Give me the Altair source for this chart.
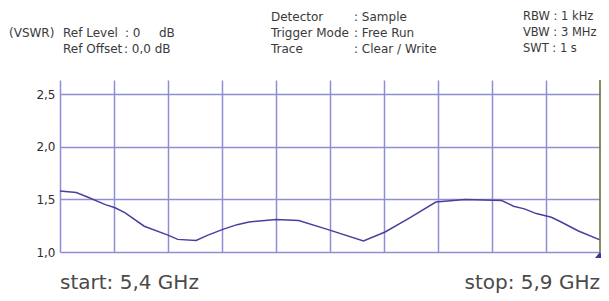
import altair as alt
import pandas as pd

# ---- data ----
freq_ghz = [5.400, 5.415, 5.426, 5.442, 5.451, 5.460, 5.478, 5.500, 5.509, 5.526,
            5.537, 5.552, 5.564, 5.575, 5.600, 5.621, 5.649, 5.681, 5.701, 5.723,
            5.748, 5.775, 5.809, 5.820, 5.830, 5.841, 5.855, 5.864, 5.880, 5.900]
vswr = [1.58, 1.565, 1.52, 1.45, 1.42, 1.375, 1.245, 1.16, 1.12, 1.11,
        1.16, 1.22, 1.26, 1.285, 1.31, 1.30, 1.21, 1.105, 1.19, 1.32,
        1.475, 1.50, 1.49, 1.435, 1.41, 1.365, 1.33, 1.285, 1.20, 1.115]

x_grid = [5.40, 5.45, 5.50, 5.55, 5.60, 5.65, 5.70, 5.75, 5.80, 5.85]
y_ticks = [1.0, 1.5, 2.0, 2.5]
x_start, x_stop = 5.4, 5.9
y_min, y_max = 1.0, 2.635

header_left = ["(VSWR)"]
ref_labels = ["Ref Level", "Ref Offset"]
ref_values = [": 0", ": 0,0 dB"]
det_labels = ["Detector", "Trigger Mode", "Trace"]
det_values = [": Sample", ": Free Run", ": Clear / Write"]
bw_labels = ["RBW : 1 kHz", "VBW : 3 MHz", "SWT : 1 s"]
start_label = "start: 5,4 GHz"
stop_label = "stop: 5,9 GHz"

df = pd.DataFrame({"f": freq_ghz, "v": vswr})

GRID = "#8e8ed4"
TXT = "#3a3a3a"
FONT = "DejaVu Sans"
W, H = 540, 172

xs = alt.Scale(domain=[x_start, x_stop], nice=False, zero=False)
ys = alt.Scale(domain=[y_min, y_max], nice=False, zero=False)

base = alt.Chart(df)

trace = base.mark_line(color="#4b3f9e", strokeWidth=1.5, interpolate="linear").encode(
    x=alt.X("f:Q", scale=xs,
            axis=alt.Axis(values=x_grid, grid=True, gridColor=GRID, gridWidth=1.5,
                          gridOpacity=1, labels=False, ticks=False, domain=False, title=None)),
    y=alt.Y("v:Q", scale=ys,
            axis=alt.Axis(values=y_ticks, grid=True, gridColor=GRID, gridWidth=1.5,
                          gridOpacity=1, ticks=False, domain=False, title=None,
                          labelExpr="replace(format(datum.value, '.1f'), '.', ',')",
                          labelFont=FONT, labelFontSize=12, labelColor="#2e2e2e",
                          labelPadding=5)),
)

stop_rule = alt.Chart(pd.DataFrame({"f": [x_stop]})).mark_rule(
    color="#6f6f3c", strokeWidth=1.6).encode(x=alt.X("f:Q", scale=xs))

marker = alt.Chart(pd.DataFrame({"f": [x_stop], "v": [y_min]})).mark_point(
    shape="M-1,0.6L1,0.6L0,-0.6Z", size=100, filled=True, opacity=1,
    color="#3b3b8e", yOffset=3).encode(x=alt.X("f:Q", scale=xs), y=alt.Y("v:Q", scale=ys))


def txt(s, x, y, align="left", size=12, color=TXT):
    return alt.Chart(pd.DataFrame({"t": [s]})).mark_text(
        align=align, baseline="middle", font=FONT, fontSize=size, color=color
    ).encode(text="t:N", x=alt.value(x), y=alt.value(y))


rows = [-63, -47, -31]
texts = [txt(header_left[0], -51, rows[1])]
texts += [txt(ref_labels[0], 3, rows[1]), txt(ref_values[0], 65, rows[1]), txt("dB", 99, rows[1]),
          txt(ref_labels[1], 3, rows[2]), txt(ref_values[1], 64, rows[2])]
for i in range(3):
    texts.append(txt(det_labels[i], 211, rows[i]))
    texts.append(txt(det_values[i], 294, rows[i]))
    texts.append(txt(bw_labels[i], 463, rows[i], size=11.5))

bottom = [
    alt.Chart(pd.DataFrame({"t": [start_label]})).mark_text(
        align="left", baseline="alphabetic", font=FONT, fontSize=20, color="#4a4a4a"
    ).encode(text="t:N", x=alt.value(0), y=alt.value(209)),
    alt.Chart(pd.DataFrame({"t": [stop_label]})).mark_text(
        align="right", baseline="alphabetic", font=FONT, fontSize=20, color="#4a4a4a"
    ).encode(text="t:N", x=alt.value(W), y=alt.value(209)),
]

chart = alt.layer(trace, stop_rule, marker, *texts, *bottom).properties(
    width=W, height=H,
    padding={"left": 52, "top": 72, "right": 1, "bottom": 41},
    autosize=alt.AutoSizeParams(type="none"),
    background="white",
).configure_view(stroke=None)

chart.save("out.html", embed_options={"renderer": "svg", "actions": False})
